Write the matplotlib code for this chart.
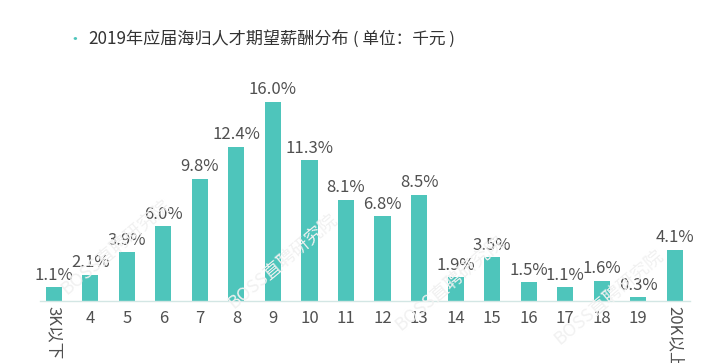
import matplotlib
matplotlib.use("Agg")
import matplotlib.pyplot as plt

plt.rcParams['font.family'] = ['Noto Sans CJK SC', 'DejaVu Sans']

categories = ["3K以下", "4", "5", "6", "7", "8", "9", "10", "11", "12",
              "13", "14", "15", "16", "17", "18", "19", "20K以上"]
values = [1.1, 2.1, 3.9, 6.0, 9.8, 12.4, 16.0, 11.3, 8.1, 6.8,
          8.5, 1.9, 3.5, 1.5, 1.1, 1.6, 0.3, 4.1]

bar_color = "#4ec5bb"
text_color = "#505050"

fig = plt.figure(figsize=(7.25, 3.63), dpi=100)
ax = fig.add_axes([40 / 725, 62 / 363, 650 / 725, 224 / 363])

x = list(range(len(categories)))
ax.bar(x, values, width=0.44, color=bar_color, zorder=2)

for xi, v in zip(x, values):
    ax.text(xi, v + 0.3, f"{v:.1f}%", ha="center", va="bottom",
            fontsize=12, color=text_color, fontweight="light")

ax.set_xlim(-0.38, 17.42)
ax.set_ylim(0, 18)
ax.set_yticks([])
ax.set_xticks([])
for s in ["top", "right", "left"]:
    ax.spines[s].set_visible(False)
ax.spines["bottom"].set_color("#d3e6e4")
ax.spines["bottom"].set_linewidth(1.0)

# tick labels (the long ones run vertically and are cut by the bottom edge, as in the source)
for xi, lab in zip(x, categories):
    if len(lab) > 2:
        ax.text(xi, -0.4, lab, ha="center", va="top", rotation=-90,
                fontsize=12, color=text_color, fontweight="light", clip_on=False)
    else:
        ax.text(xi, -0.75, lab, ha="center", va="top",
                fontsize=12, color=text_color, fontweight="light", clip_on=False)

# watermark
for wx, wy in [(0.16, 0.32), (0.39, 0.28), (0.62, 0.22), (0.84, 0.18)]:
    fig.text(wx, wy, "BOSS直聘研究院", rotation=40, fontsize=13,
             color="#f1f1f1", ha="center", va="center", zorder=0)

# title
fig.text(75 / 725, 1 - 39 / 363, "·", color=bar_color, fontsize=12,
         ha="center", va="center")
fig.text(88 / 725, 1 - 39 / 363, "2019年应届海归人才期望薪酬分布", fontsize=12.3,
         color="#333333", ha="left", va="center")
fig.text(353 / 725, 1 - 39 / 363, "( 单位：千元 )", fontsize=12,
         color="#333333", ha="left", va="center")

fig.savefig("out.png", dpi=100)
